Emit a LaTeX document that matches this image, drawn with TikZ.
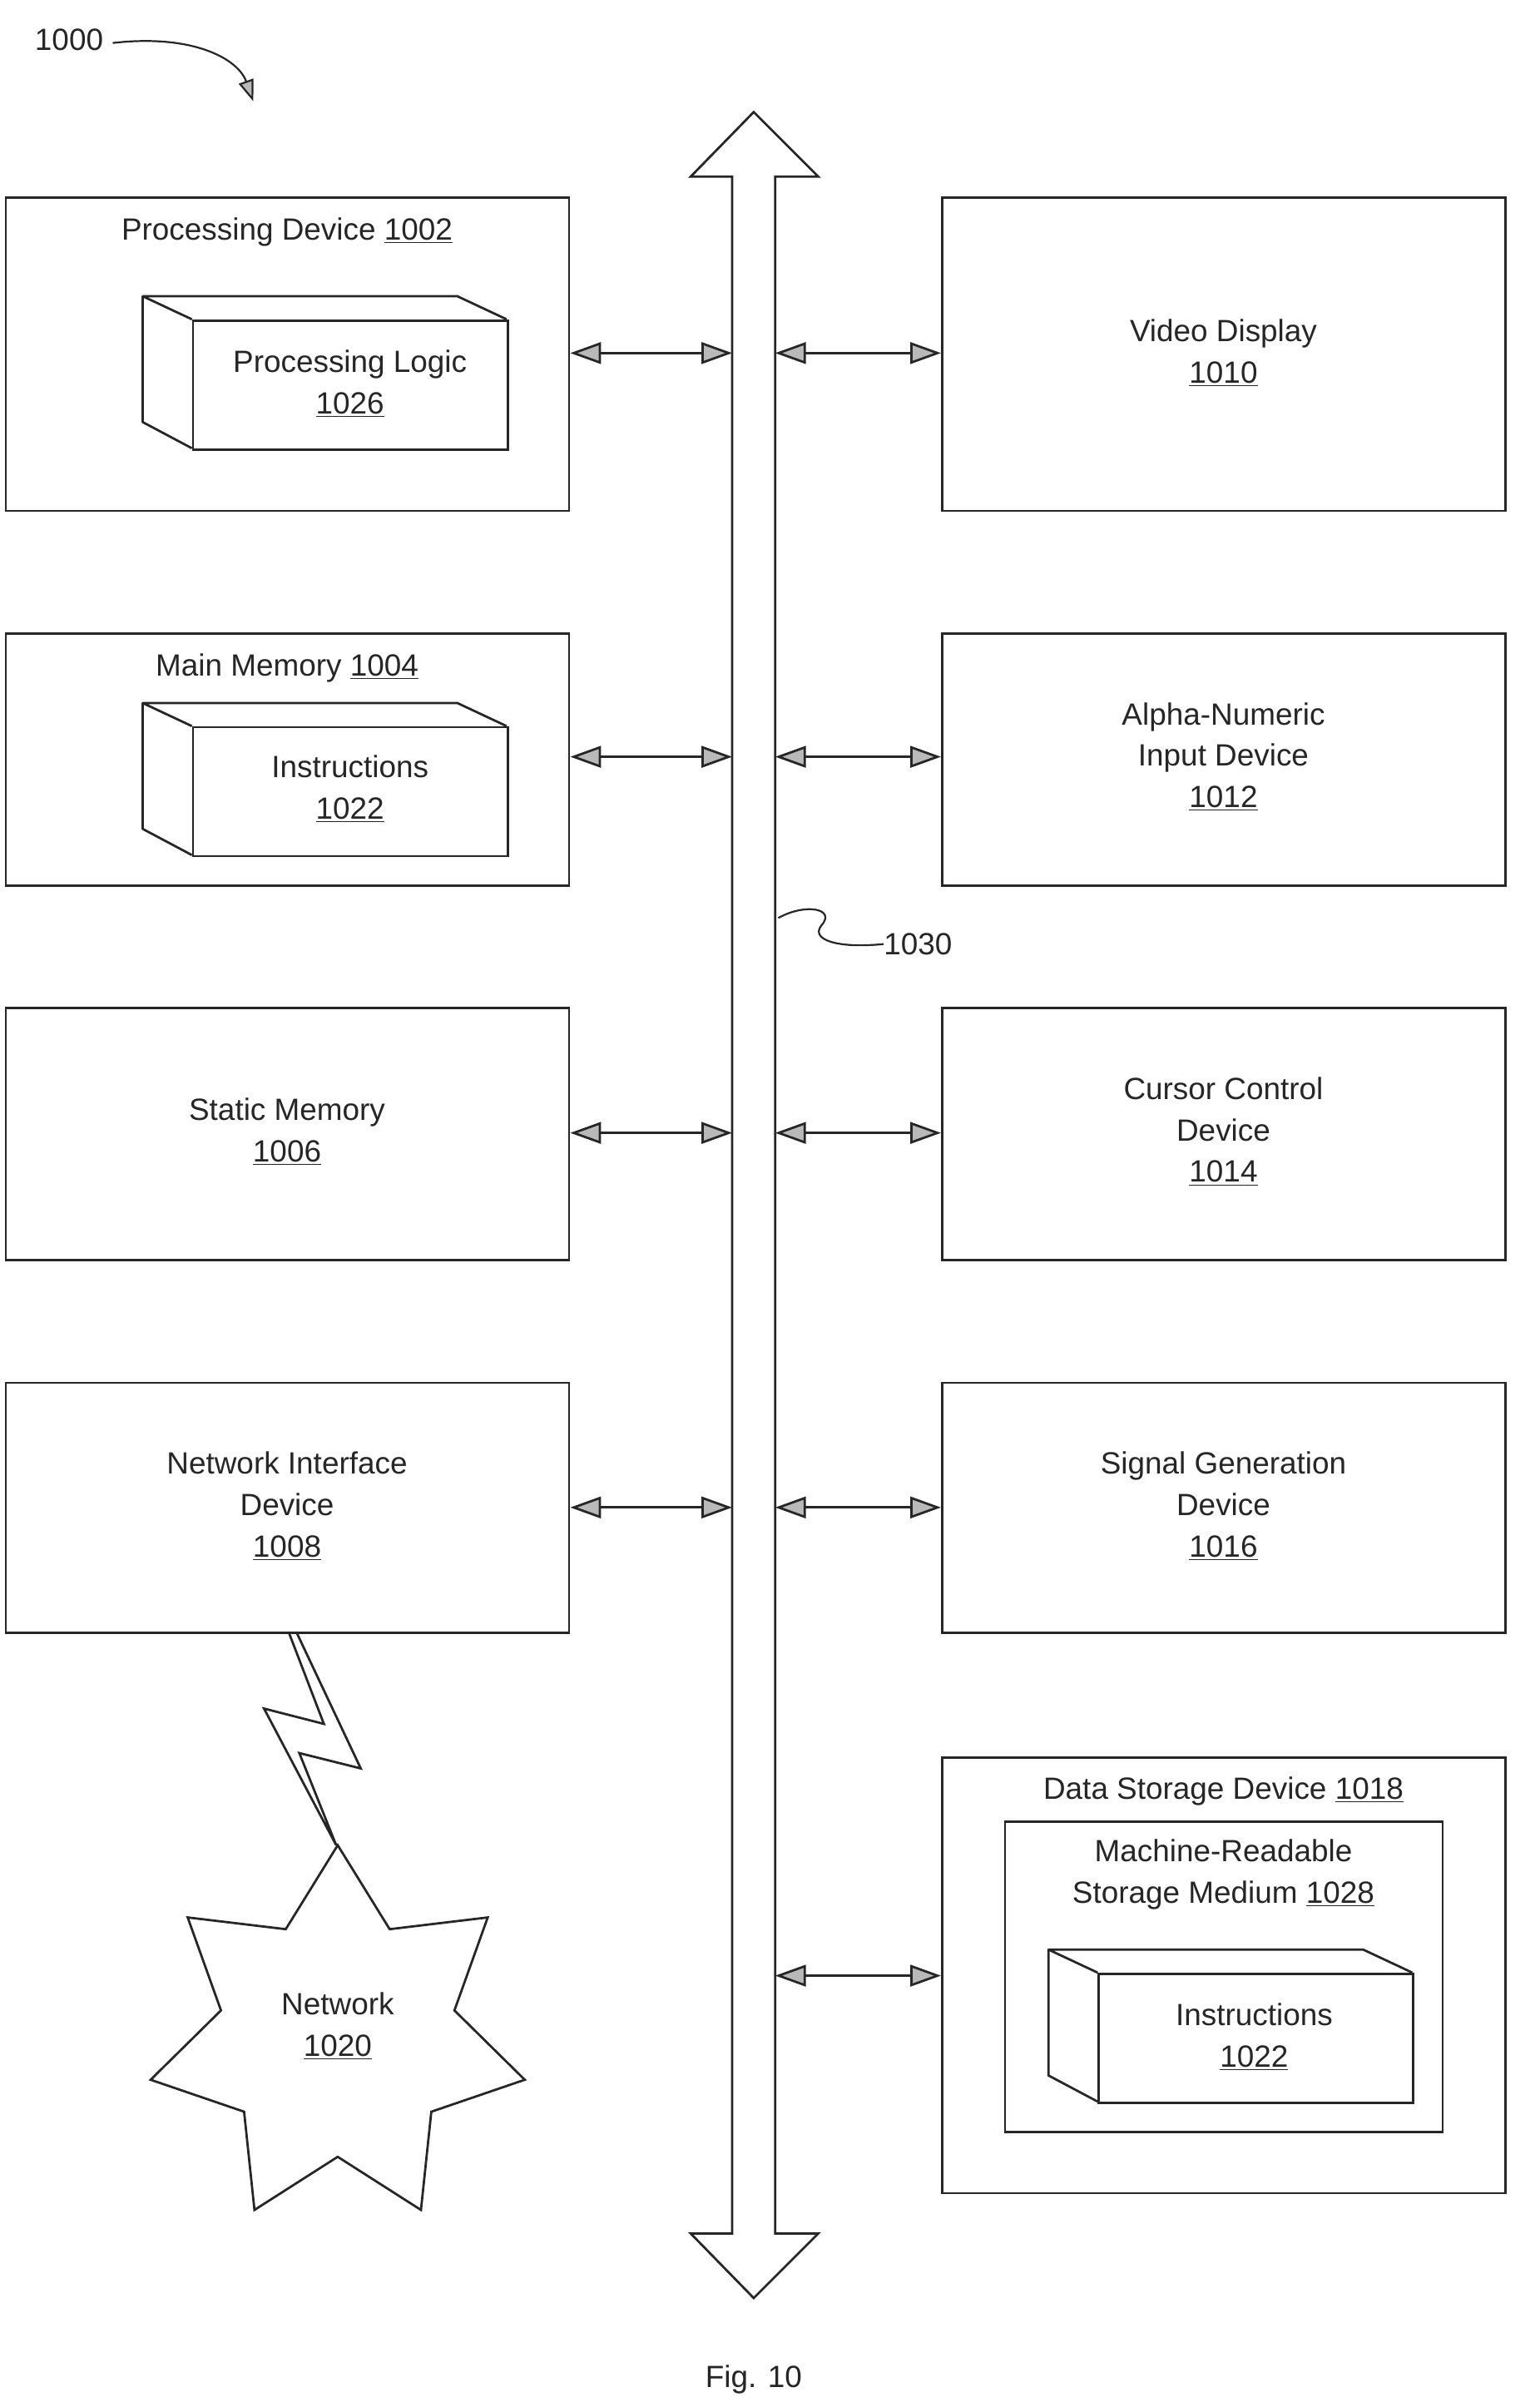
\documentclass[tikz,border=0pt]{standalone}
\usepackage{fontspec}
\setmainfont{Liberation Sans}
\usetikzlibrary{arrows.meta,calc}
\begin{document}
\begin{tikzpicture}[x=1pt,y=-1pt,
  ln/.style={line width=1.5pt,draw=black!85},
  box/.style={ln,rectangle,inner sep=0pt,anchor=north west},
  txt/.style={font=\fontsize{20}{27}\selectfont,align=center,inner sep=0pt,text=black!85},
  conn/.style={ln,{Triangle[length=20pt,width=14pt,fill=gray!55]}-{Triangle[length=20pt,width=14pt,fill=gray!55]}}]
\useasboundingbox (0,0) rectangle (1003,1568);
% boxes
\node[box,minimum width=367pt,minimum height=204pt] (pd) at (3,128) {};
\node[box,minimum width=367pt,minimum height=164pt] (mm) at (3,412) {};
\node[box,minimum width=367pt,minimum height=164pt] (sm) at (3,656) {};
\node[box,minimum width=367pt,minimum height=163pt] (nid) at (3,900) {};
\node[box,minimum width=367pt,minimum height=204pt] (vd) at (613,128) {};
\node[box,minimum width=367pt,minimum height=164pt] (an) at (613,412) {};
\node[box,minimum width=367pt,minimum height=164pt] (cc) at (613,656) {};
\node[box,minimum width=367pt,minimum height=163pt] (sg) at (613,900) {};
\node[box,minimum width=367pt,minimum height=284pt] (ds) at (613,1144) {};
\node[box,minimum width=285pt,minimum height=202pt] (mr) at (654,1186) {};
% 3D boxes
\foreach \n/\x/\y in {pl/125/208,ia/125/473,ib/715/1285}{
  \node[box,minimum width=205pt,minimum height=84pt] (\n) at (\x,\y) {};
  \draw[ln,line join=round] (\x,\y) -- ++(-32,-15) -- ++(205,0) -- ++(32,15);
  \draw[ln,line join=round] (\x,\y) ++(-32,-15) -- ++(0,82) -- ++(32,17);
}
% texts
\node[txt] (tpd) at (187,151) {Processing Device \underline{1002}};
\node[txt] (tpl) at (228,250) {Processing Logic\\\underline{1026}};
\node[txt] (tmm) at (187,435) {Main Memory \underline{1004}};
\node[txt] (tia) at (228,514) {Instructions\\\underline{1022}};
\node[txt] (tsm) at (187,737) {Static Memory\\\underline{1006}};
\node[txt] (tnid) at (187,981) {Network Interface\\Device\\\underline{1008}};
\node[txt] (tvd) at (797,230) {Video Display\\\underline{1010}};
\node[txt] (tan) at (797,493) {Alpha-Numeric\\Input Device\\\underline{1012}};
\node[txt] (tcc) at (797,737) {Cursor Control\\Device\\\underline{1014}};
\node[txt] (tsg) at (797,981) {Signal Generation\\Device\\\underline{1016}};
\node[txt] (tds) at (797,1167) {Data Storage Device \underline{1018}};
\node[txt] (tmr) at (797,1221) {Machine-Readable\\Storage Medium \underline{1028}};
\node[txt] (tib) at (817,1327) {Instructions\\\underline{1022}};
\node[txt] (t1000) at (45,26) {1000};
\node[txt] (t1030) at (598,615) {1030};
\node[txt] (fig) at (491,1550) {Fig. 10};
% bus
\draw[ln,line join=miter] (477,1455) -- (477,115) -- (450,115) -- (491,73) -- (533,115) -- (505,115) -- (505,1455) -- (533,1455) -- (491,1497) -- (450,1455) -- cycle;
\foreach \n/\y in {1/230,2/493,3/738,4/982,5/1287}{
  \coordinate (bl\n) at (477,\y);
  \coordinate (br\n) at (505,\y);
}
\draw[conn] (pd.east |- bl1) -- (bl1);
\draw[conn] (mm.east |- bl2) -- (bl2);
\draw[conn] (sm.east |- bl3) -- (bl3);
\draw[conn] (nid.east |- bl4) -- (bl4);
\draw[conn] (br1) -- (vd.west |- br1);
\draw[conn] (br2) -- (an.west |- br2);
\draw[conn] (br3) -- (cc.west |- br3);
\draw[conn] (br4) -- (sg.west |- br4);
\draw[conn] (br5) -- (ds.west |- br5);
% labels pointers
\draw[ln,line width=1.2pt] (507,598) .. controls (525,588) and (545,592) .. (535,603) .. controls (528,612) and (545,618) .. (t1030.west);
\draw[ln,line width=1.2pt,-{Triangle[length=14pt,width=10pt,fill=gray!55]}] (t1000.east) ++(6,2) .. controls (125,22) and (155,38) .. (165,66);
% lightning
\draw[ln,line join=miter] (188,1063) -- (211,1123) -- (172,1113) -- (219,1202) -- (195,1142) -- (235,1152) -- (193,1063);
% network star
\coordinate (nc) at (220,1327);
\draw[ln,line join=miter] ($(nc)+(-90:125)$)
  \foreach \i in {0,...,6}{ -- ($(nc)+({-90+\i*360/7+360/14}:78)$) -- ($(nc)+({-90+(\i+1)*360/7}:125)$) } -- cycle;
\node[txt] (tnet) at (220,1320) {Network\\\underline{1020}};
\end{tikzpicture}
\end{document}
